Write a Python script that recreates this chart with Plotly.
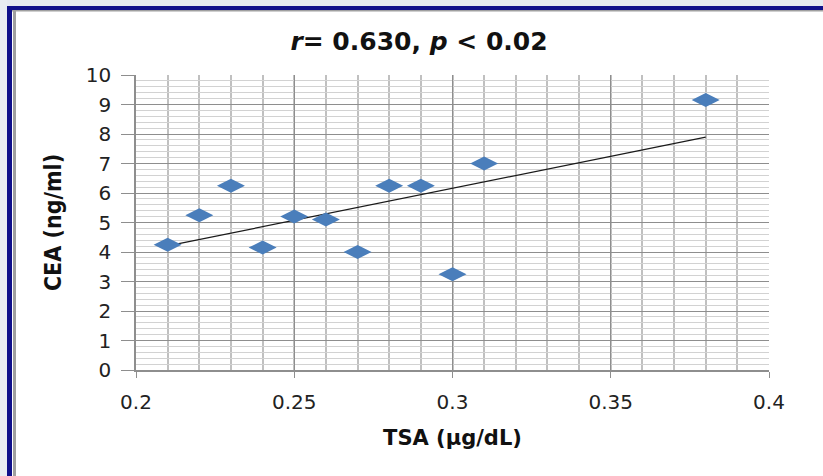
import numpy as np
import plotly.graph_objects as go

# TSA vs CEA measurements
tsa = [0.21, 0.22, 0.23, 0.24, 0.25, 0.26, 0.27, 0.28, 0.29, 0.30, 0.31, 0.38]
cea = [4.25, 5.25, 6.25, 4.15, 5.2, 5.1, 4.0, 6.25, 6.25, 3.25, 7.0, 9.15]

x_tick_vals = [0.2, 0.25, 0.3, 0.35, 0.4]
x_tick_text = ["0.2", "0.25", "0.3", "0.35", "0.4"]
y_tick_vals = list(range(0, 11))
y_tick_text = [str(v) for v in y_tick_vals]

W, H = 823, 476
ML, MR, MT, MB = 136, 54, 75, 106

# least-squares trend line over the observed TSA range
slope, intercept = np.polyfit(tsa, cea, 1)
trend_x = [min(tsa), max(tsa)]
trend_y = [slope * v + intercept for v in trend_x]

fig = go.Figure()
fig.add_trace(go.Scatter(
    x=trend_x, y=trend_y, mode="lines",
    line=dict(color="#1a1a1a", width=1.2),
    hoverinfo="skip", showlegend=False,
))
fig.add_trace(go.Scatter(
    x=tsa, y=cea, mode="markers",
    marker=dict(symbol="diamond-wide", size=20, color="#4a7ebb",
                line=dict(width=0)),
    showlegend=False,
))

# pixel -> paper helpers for the slide frame
pw = W - ML - MR
ph = H - MT - MB
def px(x):
    return (x - ML) / pw
def py(y):
    return (H - MB - y) / ph

frame = [
    # outer slide background strips
    (0, 0, W, 6, "#e6eaf0"),
    (0, 0, 7, H, "#e9edf2"),
    # navy border
    (7, 6, W, 10, "#10108a"),
    (7, 6, 12, H, "#10108a"),
    # thin grey inner rule
    (12, 10, W, 11.5, "#a0a0a0"),
    (13, 10, 16, H, "#a0a0a0"),
]
shapes = []
for x0, y0, x1, y1, c in frame:
    shapes.append(dict(type="rect", xref="paper", yref="paper",
                       x0=px(x0), x1=px(x1), y0=py(y1), y1=py(y0),
                       fillcolor=c, line=dict(width=0), layer="above"))

fig.update_layout(
    width=W, height=H,
    margin=dict(l=ML, r=MR, t=MT, b=MB, pad=0),
    paper_bgcolor="white", plot_bgcolor="white",
    shapes=shapes,
    title=dict(
        text="<i>r</i>= 0.630, <i>p</i> &lt; 0.02",
        x=(419 / W), xanchor="center", y=1 - 41 / H, yanchor="middle",
        font=dict(family="DejaVu Sans", size=25, color="#111", weight="bold"),
    ),
    xaxis=dict(
        range=[0.2, 0.4], tickvals=x_tick_vals, ticktext=x_tick_text,
        showgrid=True, gridcolor="#8e8e8e", gridwidth=1,
        minor=dict(dtick=0.01, tick0=0.2, showgrid=True,
                   gridcolor="#c0c0c0", gridwidth=2),
        ticks="outside", ticklen=6, tickcolor="#8e8e8e",
        showline=True, linecolor="#8e8e8e", linewidth=1.5,
        zeroline=False,
        tickfont=dict(family="DejaVu Sans", size=20, color="#222"),
        ticklabelstandoff=7,
        title=dict(text="TSA (μg/dL)", standoff=18,
                   font=dict(family="DejaVu Sans", size=21, color="#111",
                             weight="bold")),
    ),
    yaxis=dict(
        range=[0, 10], tickvals=y_tick_vals, ticktext=y_tick_text,
        showgrid=True, gridcolor="#8e8e8e", gridwidth=1,
        minor=dict(dtick=0.2, tick0=0, showgrid=True,
                   gridcolor="#d2d2d2", gridwidth=1),
        ticks="outside", ticklen=13, tickcolor="#8e8e8e",
        showline=True, linecolor="#8e8e8e", linewidth=1.5,
        zeroline=False,
        tickfont=dict(family="DejaVu Sans", size=20, color="#222"),
        ticklabelstandoff=6,
        title=dict(text="CEA (ng/ml)", standoff=18,
                   font=dict(family="DejaVu Sans Condensed, Liberation Sans",
                             size=23, color="#111", weight="bold")),
    ),
)

fig.write_html("out.html")
